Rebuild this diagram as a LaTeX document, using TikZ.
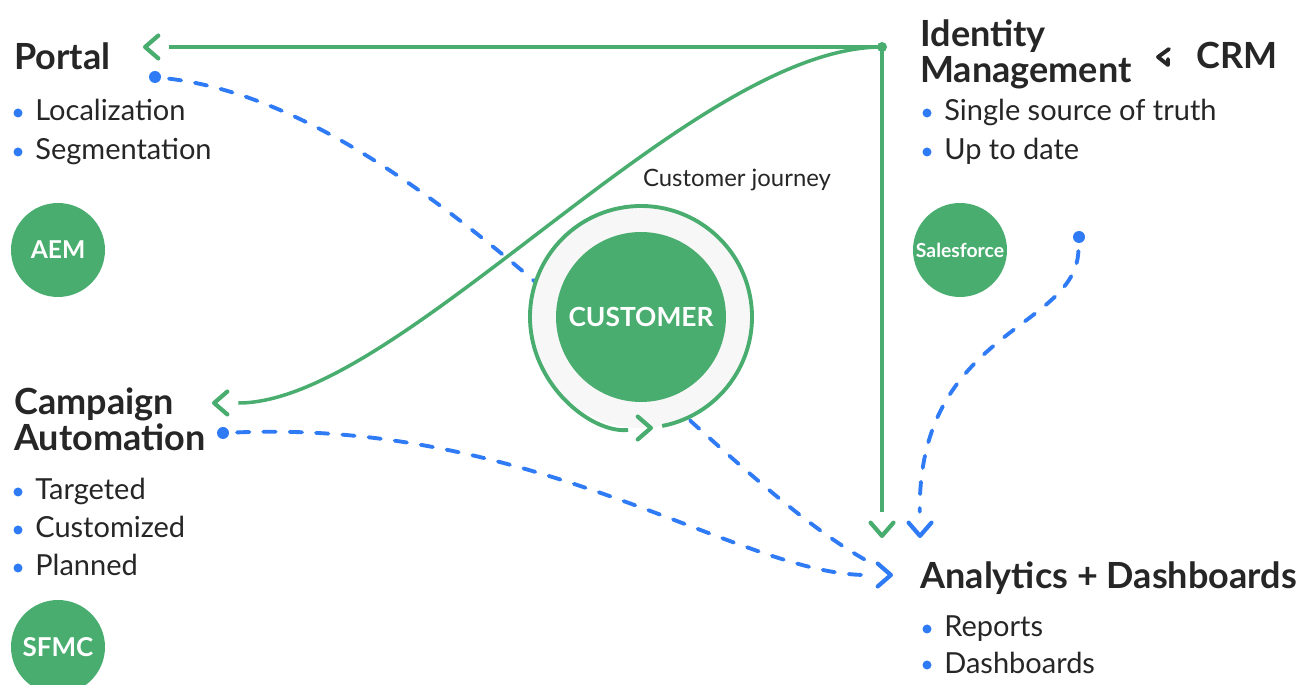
\documentclass[tikz,border=0pt]{standalone}
\usepackage{fontspec}
\setmainfont{Lato}
\usetikzlibrary{arrows.meta}
\definecolor{jgreen}{RGB}{72,173,110}
\definecolor{jblue}{RGB}{47,123,246}
\definecolor{jink}{RGB}{38,38,38}
\definecolor{jring}{RGB}{247,247,247}
\newcommand{\titlesize}{\fontsize{20.5}{21}\selectfont\bfseries}
\newcommand{\itemsize}{\fontsize{16.5}{18}\selectfont}
\newcommand{\point}[4]{
	\fill[jblue] (#2,#3-8) circle (4.5);
	\node[item] (#1) at (#2+17,#3) {#4};
}
% chevron at #2, the line coming in from direction #3
\newcommand{\chevron}[3]{
	\draw[#1, line width=2.4pt, -{Straight Barb[length=7.5pt,width=13pt,round]}] (#2) ++(#3:1) -- (#2);
}

\begin{document}
\begin{tikzpicture}[x=0.02cm,y=-0.02cm,
	title/.style={anchor=base west, inner sep=0, text=jink, font=\titlesize, align=left},
	item/.style={anchor=base west, inner sep=0, text=jink, font=\itemsize},
	badge/.style={circle, fill=jgreen, minimum size=1.88cm, inner sep=0, text=white},
	flow/.style={jgreen, line width=2pt, shorten >=15pt},
	feed/.style={jblue, line width=2.2pt, dash pattern=on 7pt off 8pt, line cap=round,
		shorten <=8pt, shorten >=15pt},
]
	\useasboundingbox (0,0) rectangle (1302,685);

	% left column
	\node[title] (portal) at (14,70) {Portal};
	\point{loc}{18}{121}{Localization}
	\point{seg}{18}{160}{Segmentation}
	\node[badge, font=\fontsize{14}{16}\selectfont\bfseries] (aem) at (58,250) {AEM};

	\node[title] (campaign) at (14,451) {Campaign\\Automation};
	\point{tgt}{18}{500}{Targeted}
	\point{cst}{18}{538}{Customized}
	\point{pln}{18}{576}{Planned}
	\node[badge, font=\fontsize{14.8}{16}\selectfont\bfseries] (sfmc) at (58,647) {SFMC};

	% right column
	\node[title] (identity) at (920,83) {Identity\\Management};
	\node[title] (crm) at (1196,69) {CRM};
	\draw[jink, line width=2.2pt, line cap=round, line join=round]
		(1169,49) -- (1158,57) -- (1168,65) -- (1168,59);
	\point{truth}{927}{121}{Single source of truth}
	\point{upd}{927}{160}{Up to date}
	\node[badge, font=\fontsize{11}{13}\selectfont\bfseries] (sf) at (960,250) {Salesforce};

	\node[title] (analytics) at (920,589) {Analytics + Dashboards};
	\point{rep}{927}{637}{Reports}
	\point{dash}{927}{673}{Dashboards}

	% connector ends
	\coordinate (hub) at (882,47);
	\coordinate (portal-in) at (143,47);
	\coordinate (portal-out) at (155,77);
	\coordinate (campaign-in) at (212,403);
	\coordinate (campaign-out) at (223,433);
	\coordinate (sf-out) at (1079,237);
	\coordinate (analytics-in) at (893,575);
	\coordinate (analytics-top) at (882,538);
	\coordinate (analytics-feed) at (920,538);

	% this one runs under the customer ring
	\draw[feed] (portal-out) .. controls (430,110) and (700,470) .. (analytics-in);

	% customer ring
	\coordinate (ring) at (641,317);
	\fill[jring] (ring) circle (111);
	\draw[flow, line width=2.2pt, shorten >=14pt] (ring) ++(79:111) arc[start angle=79, end angle=-276, radius=111];
	\chevron{jgreen}{653,428}{180}
	\node[circle, fill=jgreen, minimum size=3.4cm, inner sep=0, text=white,
		font=\fontsize{15}{17}\selectfont\bfseries] (customer) at (ring) {CUSTOMER};
	\node[text=jink, font=\fontsize{13.6}{15}\selectfont] (journey) at (737,180) {Customer journey};

	\draw[flow] (hub) -- (portal-in);
	\draw[flow] (hub) -- (analytics-top);
	\draw[flow] (hub) .. controls (690,47) and (400,403) .. (campaign-in);
	\chevron{jgreen}{portal-in}{0}
	\chevron{jgreen}{analytics-top}{-90}
	\chevron{jgreen}{campaign-in}{0}
	\fill[jgreen] (hub) circle (5);

	\draw[feed] (campaign-out) .. controls (540,420) and (740,575) .. (analytics-in);
	\draw[feed] (sf-out) .. controls (1075,330) and (918,330) .. (analytics-feed);
	\chevron{jblue}{analytics-in}{180}
	\chevron{jblue}{analytics-feed}{-90}
	\fill[jblue] (portal-out) circle (6);
	\fill[jblue] (campaign-out) circle (6);
	\fill[jblue] (sf-out) circle (6);
\end{tikzpicture}
\end{document}
